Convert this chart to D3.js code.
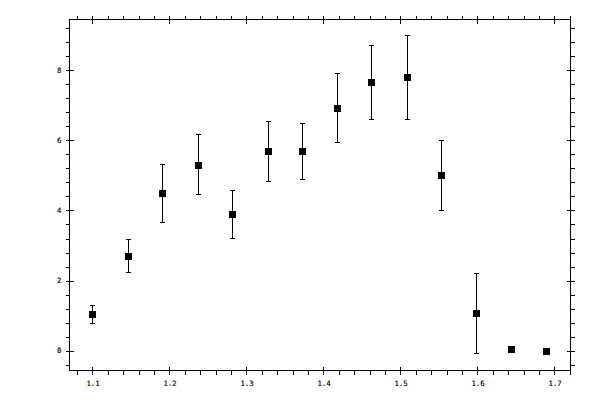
<!DOCTYPE html>
<html>
<head>
<meta charset="utf-8">
<script src="https://cdnjs.cloudflare.com/ajax/libs/d3/7.8.5/d3.min.js"></script>
<style>
    body { margin: 0; background: #fff; }
    .tick text { font-family: "DejaVu Sans Mono", monospace; font-size: 7.3px; fill: #000; stroke: #000; stroke-width: 0.15px; }
</style>
</head>
<body>
<svg id="chart"></svg>
<script>

// data
var xValues = [1.1, 1.1455, 1.1909, 1.2364, 1.2818, 1.3273, 1.3727, 1.4174, 1.4623, 1.5078, 1.5532, 1.5987, 1.6441, 1.6896];
var yValues = [1.03, 2.69, 4.49, 5.31, 3.89, 5.69, 5.69, 6.93, 7.66, 7.8, 5.0, 1.06, 0.03, 0.0];
var yErrors = [0.25, 0.47, 0.83, 0.85, 0.68, 0.86, 0.8, 0.99, 1.06, 1.2, 1.0, 1.14, 0, 0];

var xMajor = [1.1, 1.2, 1.3, 1.4, 1.5, 1.6, 1.7];
var yMajor = [0, 2, 4, 6, 8];
var xMinor = d3.range(54, 87).map(function(i) { return i * 0.02; });
var yMinor = d3.range(-1, 24).map(function(i) { return i * 0.4; });

var width = 600, height = 400;
// plot frame edges (pixels)
var frame = {left: 69.5, right: 570.5, top: 19.5, bottom: 370.5};

var svg = d3.select("#chart")
    .attr("width", width)
    .attr("height", height);

var x = d3.scaleLinear()
    .domain([1.07013, 1.72078])
    .range([frame.left, frame.right]);

var y = d3.scaleLinear()
    .domain([-0.5714, 9.4571])
    .range([frame.bottom, frame.top]);

// frame
svg.append("rect")
    .attr("x", frame.left).attr("y", frame.top)
    .attr("width", frame.right - frame.left).attr("height", frame.bottom - frame.top)
    .attr("fill", "none").attr("stroke", "#000").attr("stroke-width", 1)
    .attr("shape-rendering", "crispEdges");

// outward ticks (minor + major), inward ticks (major only)
function addTicks(axisFn, translate, values, size) {
    var g = svg.append("g")
        .attr("transform", translate)
        .call(axisFn.tickValues(values).tickSize(size).tickSizeOuter(0)
            .tickFormat(function() { return ""; }));
    g.select(".domain").remove();
    g.selectAll(".tick line").attr("stroke", "#000").attr("shape-rendering", "crispEdges");
    return g;
}

var xAll = xMinor.concat(xMajor), yAll = yMinor.concat(yMajor);
addTicks(d3.axisBottom(x), "translate(0," + frame.bottom + ")", xAll, 4);
addTicks(d3.axisBottom(x), "translate(0," + frame.bottom + ")", xMajor, -4);
addTicks(d3.axisTop(x), "translate(0," + frame.top + ")", xAll, 4);
addTicks(d3.axisTop(x), "translate(0," + frame.top + ")", xMajor, -4);
addTicks(d3.axisLeft(y), "translate(" + frame.left + ",0)", yAll, 4);
addTicks(d3.axisLeft(y), "translate(" + frame.left + ",0)", yMajor, -4);
addTicks(d3.axisRight(y), "translate(" + frame.right + ",0)", yAll, 4);
addTicks(d3.axisRight(y), "translate(" + frame.right + ",0)", yMajor, -4);

// tick labels
svg.append("g")
    .attr("transform", "translate(0," + frame.bottom + ")")
    .call(d3.axisBottom(x).tickValues(xMajor).tickSize(0).tickPadding(10).tickFormat(d3.format(".1f")))
    .call(function(g) { g.select(".domain").remove(); });

svg.append("g")
    .attr("transform", "translate(" + frame.left + ",0)")
    .call(d3.axisLeft(y).tickValues(yMajor).tickSize(0).tickPadding(8).tickFormat(d3.format("d")))
    .call(function(g) { g.select(".domain").remove(); });

var data = xValues.map(function(d, i) { return {x: d, y: yValues[i], e: yErrors[i]}; });

// error bars
var bars = svg.append("g").attr("stroke", "#000").attr("stroke-width", 1).attr("shape-rendering", "crispEdges");
data.filter(function(d) { return d.e > 0; }).forEach(function(d) {
    var cx = Math.round(x(d.x)) + 0.5;
    bars.append("line").attr("x1", cx).attr("x2", cx).attr("y1", y(d.y + d.e)).attr("y2", y(d.y - d.e));
    bars.append("line").attr("x1", cx - 2.5).attr("x2", cx + 2.5).attr("y1", y(d.y + d.e)).attr("y2", y(d.y + d.e));
    bars.append("line").attr("x1", cx - 2.5).attr("x2", cx + 2.5).attr("y1", y(d.y - d.e)).attr("y2", y(d.y - d.e));
});

// square markers
svg.append("g").selectAll("rect")
    .data(data)
    .enter()
    .append("rect")
    .attr("x", function(d) { return Math.round(x(d.x)) - 3; })
    .attr("y", function(d) { return Math.round(y(d.y)) - 3; })
    .attr("width", 7)
    .attr("height", 7)
    .attr("fill", "#000");

</script>
</body>
</html>
